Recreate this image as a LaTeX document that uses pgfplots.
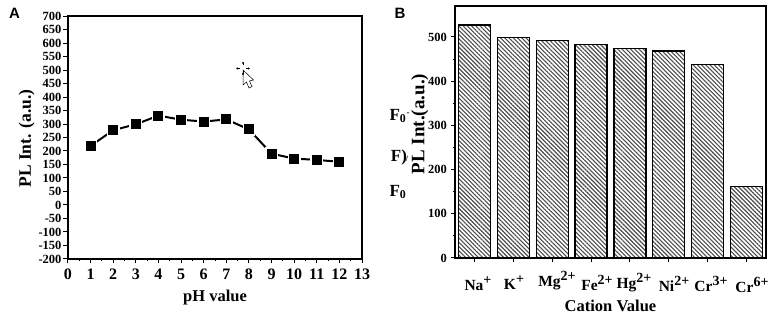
\documentclass[border=0pt]{standalone}
\usepackage{pgfplots}
\pgfplotsset{compat=1.18}
\usepackage{fontspec}
\setmainfont{Liberation Serif}
\newfontfamily\panelfont{Liberation Sans}
\usetikzlibrary{patterns.meta,arrows.meta}
\pgfplotstableread{
x y
1 219
2 277
3 299
4 331
5 316
6 309
7 317
8 280
9 190
10 172
11 167
12 160
}\phdata
\pgfplotstableread{
x y
0 527
1 499
2 492
3 483
4 473
5 468
6 438
7 161
}\cationdata
\newcommand{\ion}[2]{#1\raisebox{6pt}{\fontsize{14}{15}\selectfont #2}}
\pgfplotsset{common/.style={
  scale only axis, anchor=south west, axis line style={line width=1.3pt},
  tick style={black,line width=1pt}, tick align=outside,
  major tick length=4.5pt, minor tick length=2.5pt,
  /pgf/number format/assume math mode=true,
  tick label style={font=\fontsize{12.5}{13}\selectfont\bfseries},
  label style={font=\fontsize{16.5}{17}\selectfont\bfseries},
  /pgf/number format/set thousands separator={},
}}
\begin{document}
\begin{tikzpicture}[x=1pt,y=1pt]
\useasboundingbox (0,0) rectangle (772,318);
\begin{axis}[common, at={(68pt,59pt)}, width=294pt, height=243pt,
  xmin=0,xmax=13,ymin=-200,ymax=700,
  xtick={0,...,13}, ytick={-200,-150,...,700}, minor x tick num=1,
  xtick pos=bottom, ytick pos=left,
  x tick label style={font=\fontsize{16}{17}\selectfont\bfseries, yshift=-2pt},
  y tick label style={xshift=1.5pt},
  xlabel={pH value}, ylabel={PL Int. (a.u.)},
  xlabel style={yshift=-3pt}, ylabel style={font=\fontsize{17.5}{18}\selectfont\bfseries,yshift=-3pt,xshift=-1pt}]
\addplot[black,line width=2pt,mark=square*,mark size=5.7pt,mark options={solid,draw=white,fill=black,line width=1.4pt}] table[x=x,y=y]{\phdata};
\end{axis}
\begin{axis}[common, at={(455pt,60pt)}, width=311pt, height=252pt,
  xmin=-0.5,xmax=7.5,ymin=0,ymax=570,
  xtick=data, xticklabels={},
  ytick={0,100,...,500}, minor y tick num=1,
  xtick pos=bottom, ytick pos=left,
  xlabel={Cation Value}, ylabel={PL Int.(a.u.)},
  xlabel style={yshift=-27pt}, ylabel style={font=\fontsize{19}{20}\selectfont\bfseries,yshift=-7pt,xshift=8pt},
  ybar, bar width=32pt]
\addplot[black,line width=1.2pt,fill=white,bar shift=0pt,
  postaction={pattern={Lines[angle=-45,distance=3pt,line width=1.1pt]},pattern color=black!70}]
  table[x=x,y=y]{\cationdata};
\end{axis}
\foreach \xx/\yy/\t in {478/34/{\ion{Na}{+}},514/35/{\ion{K}{+}},557/37/{\ion{Mg}{2+}},597/35/{\ion{Fe}{2+}},634/35/{\ion{Hg}{2+}},674/34/{\ion{Ni}{2+}},711/34/{\ion{Cr}{3+}},752/33/{\ion{Cr}{6+}}}
  \node[font=\fontsize{15.5}{16}\selectfont\bfseries,inner sep=0pt] at (\xx,\yy) {\t};
\node[font=\fontsize{15}{16}\selectfont\bfseries\panelfont,inner sep=0pt] at (14.5,304.5) {A};
\node[font=\fontsize{15}{16}\selectfont\bfseries\panelfont,inner sep=0pt] at (400,305) {B};
\node[font=\fontsize{17}{18}\selectfont\bfseries,inner sep=0pt] at (398,202) {F$_{\mathbf{0}}$};
\node[font=\fontsize{9}{9}\selectfont\bfseries,inner sep=0pt] at (408,204) {-};
\node[font=\fontsize{17}{18}\selectfont\bfseries,inner sep=0pt] at (399,161) {F)};
\node[font=\fontsize{8}{9}\selectfont\bfseries,inner sep=0pt] at (407,159) {/};
\node[font=\fontsize{17}{18}\selectfont\bfseries,inner sep=0pt] at (398,126) {F$_{\mathbf{0}}$};
% cursor decoration
\draw[black,line width=.5pt,fill=white] (243,248) -- (243,233) -- (246.5,236) -- (249,230) -- (252,231.5) -- (249.5,237) -- (253.5,238) -- cycle;
\foreach \dx/\dy in {1/0,-1/0,0/1,0/-1}
  \draw[black,line width=.8pt,-{Latex[length=2pt,width=2.5pt]}] (243+3*\dx,249.5+3*\dy) -- (243+7*\dx,249.5+7*\dy);
\end{tikzpicture}
\end{document}
